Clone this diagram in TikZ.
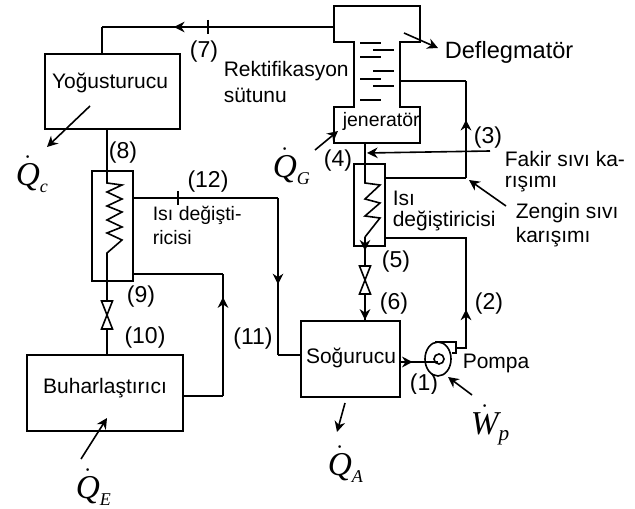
\documentclass[tikz,border=0pt]{standalone}
\usepackage{fontspec}
\setmainfont{Liberation Sans}
\newfontfamily\serifit[ItalicFont=Liberation Serif Italic]{Liberation Serif}
\usetikzlibrary{arrows.meta,decorations.markings,shapes.geometric}

\newcommand{\heatq}[2]{{\fontsize{25}{30}\selectfont\serifit\itshape $\dot{\mbox{#1}}$\raisebox{-5pt}{\fontsize{13.5}{16}\selectfont #2}}}

\begin{document}
\begin{tikzpicture}[x=0.75pt,y=-0.75pt,line width=1.2pt,
  box/.style 2 args={draw, rectangle, minimum width=#1*0.75pt, minimum height=#2*0.75pt, inner sep=0pt},
  txt/.style={inner sep=0pt, font=\fontsize{15.75}{19}\selectfont},
  lbl/.style={txt, anchor=west},
  small/.style={inner sep=0pt, anchor=west, font=\fontsize{14.6}{17}\selectfont},
  num/.style={inner sep=0pt, font=\fontsize{17.25}{20}\selectfont},
  ann/.style={-{Stealth[length=8pt,width=8pt]}},
  midtip/.style={postaction={decorate}, decoration={markings,
      mark=at position #1 with {\arrow{Stealth[length=8pt,width=8pt]}}}},
]
\useasboundingbox (0,0) rectangle (635,509);

% boxes
\node[box={135}{75}] (yog) at (112.5,91.5) {};
\node[box={156}{76}] (buh) at (105,393) {};
\node[box={99}{76}] (sog) at (350.5,359) {};
\node[box={41}{110}] (hxl) at (112.5,226) {};
\node[box={31}{82}] (hxr) at (369.5,205) {};

% column
\draw (354,42) -- (334,42) -- (334,6) -- (420,6) -- (420,42) -- (400,42) -- (400,107)
  -- (420,107) -- (420,143) -- (334,143) -- (334,107) -- (354,107) -- cycle;
\foreach \py in {43,57,79,100} \draw (360,\py) -- (381,\py);
\foreach \py in {50,71,86} \draw (373,\py) -- (394,\py);
\coordinate (colL) at (334,27);
\coordinate (colR) at (400,81);
\coordinate (colB) at (365,143);

% line 7
\coordinate (top7) at (102,27);
\draw[midtip=.69] (colL) -- (top7);
\draw (top7) -- (yog.north -| top7);
\draw (208,20) -- (208,34);

% left exchanger
\coordinate (yogB) at (107,129);
\coordinate (hxlT) at (107,171);
\coordinate (coilL) at (107,253);
\draw (yogB) -- (hxlT) -- (107,183) -- (122,185) -- (107,192) -- (122,199) -- (107,206)
  -- (122,212) -- (107,220) -- (122,227) -- (107,233) -- (122,240) -- (coilL) -- (buh.north -| coilL);

% line 12 and 11
\coordinate (c12a) at (278,198);
\coordinate (c12b) at (278,355);
\draw (hxl.east |- c12a) -- (c12a);
\draw[midtip=.55] (c12a) -- (c12b);
\draw (c12b) -- (sog.west |- c12b);
\draw (178,191) -- (178,205);
\coordinate (c11a) at (223,396);
\coordinate (c11b) at (223,274);
\draw (buh.east |- c11a) -- (c11a);
\draw[midtip=.81] (c11a) -- (c11b);
\draw (c11b) -- (hxl.east |- c11b);

% right exchanger
\coordinate (coilR) at (365,237);
\draw (colB) -- (365,183) -- (380,185) -- (365,199) -- (380,203) -- (365,216) -- (380,218) -- (coilR);
\draw[midtip=.47] (coilR) -- (365,266);
\draw[midtip=.985] (365,294) -- (sog.north -| coilR);

% lines 3 and 2
\coordinate (c3a) at (466,178);
\coordinate (c3b) at (466,81);
\draw (hxr.east |- c3a) -- (c3a);
\draw[midtip=.6] (c3a) -- (c3b);
\draw (c3b) -- (colR);
\coordinate (c2a) at (466,238);
\coordinate (c2b) at (466,348);
\draw (hxr.east |- c2a) -- (c2a) -- (c2b) -- (456,348);
\draw[midtip=.35] (c2b) -- (c2a);

% pump
\coordinate (pumpC) at (438,362);
\draw[midtip=.32] (sog.east |- pumpC) -- (pumpC);
\node[draw, ellipse, minimum width=26*0.75pt, minimum height=34*0.75pt, inner sep=0pt] (pump) at (438,359) {};
\node[draw, circle, minimum size=10*0.75pt, inner sep=0pt] (pumpE) at (439,359) {};
\draw (435,342) -- (456,342) -- (456,353) -- (452,353);

% valves
\foreach \vx/\vy in {107/315,365/280}
  \draw[fill=white, shift={(\vx,\vy)}] (-5.5,-14) -- (5.5,-14) -- (-5.5,14) -- (5.5,14) -- cycle;

% annotation arrows
\coordinate (defA) at (404,33);
\coordinate (defB) at (438,48);
\draw[ann] (defA) -- (defB);
\coordinate (fakA) at (490,151);
\coordinate (fakB) at (367,153);
\draw[ann] (fakA) -- (fakB);
\coordinate (zenA) at (506,206);
\coordinate (zenB) at (469,180);
\draw[ann] (zenA) -- (zenB);
\coordinate (qgA) at (315,150);
\coordinate (qgB) at (338,131);
\draw[ann] (qgA) -- (qgB);
\coordinate (qcA) at (90,106);
\coordinate (qcB) at (47,147);
\draw[ann] (qcA) -- (qcB);
\coordinate (qeA) at (81,459);
\coordinate (qeB) at (107,418);
\draw[ann] (qeA) -- (qeB);
\coordinate (qaA) at (345,403);
\coordinate (qaB) at (337,432);
\draw[ann] (qaA) -- (qaB);
\coordinate (wpA) at (472,395);
\coordinate (wpB) at (448,377);
\draw[ann] (wpA) -- (wpB);

% texts
\node[txt] (yogt) at (110,83) {Yoğusturucu};
\node[txt] (buht) at (105,388) {Buharlaştırıcı};
\node[txt] (sogt) at (351,358) {Soğurucu};
\node[small] (jen) at (342,121) {jeneratör};
\node[lbl, font=\fontsize{17.7}{21}\selectfont] (def) at (444,52) {Deflegmatör};
\node[lbl] (rek1) at (223,71) {Rektifikasyon};
\node[lbl] (rek2) at (223,95) {sütunu};
\node[lbl] (fak1) at (504,159) {Fakir sıvı ka-};
\node[lbl] (fak2) at (504,184) {rışımı};
\node[lbl] (zen1) at (515,213) {Zengin sıvı};
\node[lbl] (zen2) at (515,237) {karışımı};
\node[lbl] (isr1) at (392,198) {Isı};
\node[lbl] (isr2) at (392,221) {değiştiricisi};
\node[small] (isl1) at (152,215) {Isı değişti-};
\node[small] (isl2) at (152,238) {ricisi};
\node[lbl] (pom) at (462,363) {Pompa};

\node[num] (n2) at (489,304) {(2)};
\node[num] (n3) at (488,138) {(3)};
\node[num] (n4) at (338,161) {(4)};
\node[num] (n5) at (396,262) {(5)};
\node[num] (n6) at (394,304) {(6)};
\node[num] (n7) at (204,52) {(7)};
\node[num] (n8) at (123,153) {(8)};
\node[num] (n9) at (141,297) {(9)};
\node[num] (n10) at (145,338) {(10)};
\node[num] (n11) at (253,339) {(11)};
\node[num] (n12) at (208,182) {(12)};
\begin{scope}
\clip (405,370) rectangle (445,393);
\node[num] (n1) at (424,385) {(1)};
\end{scope}

\node[inner sep=0pt, anchor=west] (qc) at (15,174) {\heatq{Q}{c}};
\node[inner sep=0pt, anchor=west] (qg) at (272,166) {\heatq{Q}{G}};
\node[inner sep=0pt, anchor=west] (qa) at (327,464) {\heatq{Q}{A}};
\node[inner sep=0pt, anchor=west] (qe) at (75,487) {\heatq{Q}{E}};
\node[inner sep=0pt, anchor=west] (wp) at (470,425) {\heatq{W}{\fontsize{16}{18}\selectfont p}};
\end{tikzpicture}
\end{document}
